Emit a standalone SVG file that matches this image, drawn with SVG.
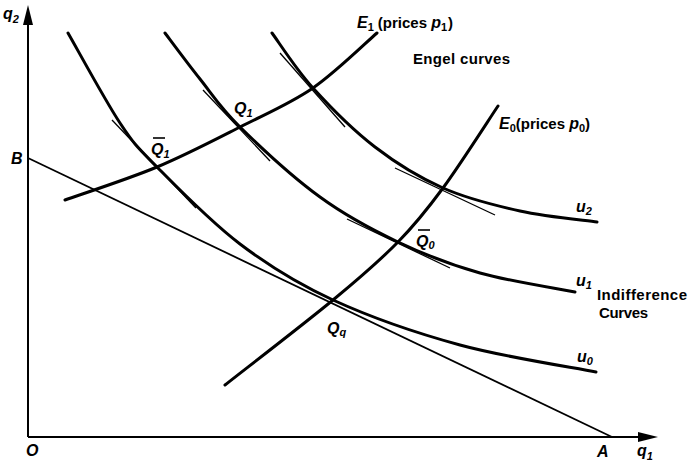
<svg xmlns="http://www.w3.org/2000/svg" width="688" height="464" viewBox="0 0 688 464">
<style>
.ax{stroke:#000;stroke-width:2;fill:none}
.bud{stroke:#000;stroke-width:1.8;fill:none}
.cv{stroke:#000;stroke-width:3;fill:none;stroke-linecap:round}
.tg{stroke:#000;stroke-width:1.3;fill:none}
text{font-family:"Liberation Sans",Arial,sans-serif;fill:#000;font-weight:bold}
.v{font-style:italic;font-size:16px}
.s{font-size:11px}
.w{font-size:15px}
.bar{stroke:#000;stroke-width:1.6}
</style>
<rect width="688" height="464" fill="#fff"/>
<g id="axes">
<path class="ax" d="M28,437 V20"/>
<path class="ax" d="M28,437 H645"/>
<polygon points="28,5 23,25 33,25" fill="#000"/>
<polygon points="658,437 638,432 638,442" fill="#000"/>
</g>
<g id="connectors">
<path id="budget" class="bud" d="M28,158 L612,437"/>
<path id="u0" class="cv" d="M68,33 C76.7,48 105.2,100.7 120,123 C134.8,145.3 137,146.8 157,167 C177,187.2 210.7,221.8 240,244 C269.3,266.2 296.3,283.2 333,300 C369.7,316.8 416.2,333 460,345 C503.8,357 573.3,367.5 596,372"/>
<path id="u1" class="cv" d="M165,33 C170.8,40.7 187.5,63.3 200,79 C212.5,94.7 220,107.3 240,127 C260,146.7 293.7,177.8 320,197 C346.3,216.2 371.3,229.3 398,242 C424.7,254.7 450.5,264.7 480,273 C509.5,281.3 559.2,288.8 575,292"/>
<path id="u2" class="cv" d="M272,33 C278.8,42.2 295.8,69 313,88 C330.2,107 353.3,130.3 375,147 C396.7,163.7 418.8,177.3 443,188 C467.2,198.7 494.3,205.3 520,211 C545.7,216.7 584.2,220.2 597,222"/>
<path id="E1" class="cv" d="M65,200 C80.3,194.5 127.8,179.2 157,167 C186.2,154.8 214,140.2 240,127 C266,113.8 290.2,103.7 313,88 C335.8,72.3 366.3,42.2 377,33"/>
<path id="E0" class="cv" d="M225,385 C243,370.8 304.2,323.8 333,300 C361.8,276.2 379.7,260.7 398,242 C416.3,223.3 426.3,210.7 443,188 C459.7,165.3 488.8,119.7 498,106"/>
<path class="tg" d="M112,120 L196,208"/>
<path class="tg" d="M203,90 L270,161"/>
<path class="tg" d="M280,53 L345,127"/>
<path class="tg" d="M395,168 L495,215"/>
<path class="tg" d="M347,219 L450,268"/>
</g>
<g id="labels">
<text class="v" x="3" y="19">q<tspan class="s" dy="4">2</tspan></text>
<text class="v" x="11" y="164">B</text>
<text class="v" x="26" y="456">O</text>
<text class="v" x="597" y="457">A</text>
<text class="v" x="637" y="456">q<tspan class="s" dy="4">1</tspan></text>
<text class="w" x="357" y="28"><tspan font-style="italic" font-size="16">E</tspan><tspan class="s" dy="3">1</tspan><tspan dy="-3" dx="4">(prices </tspan><tspan font-style="italic" font-size="16">p</tspan><tspan class="s" dy="3">1</tspan><tspan dy="-3" dx="1">)</tspan></text>
<text class="w" x="413" y="64" textLength="97" lengthAdjust="spacing">Engel curves</text>
<text class="w" x="499" y="129"><tspan font-style="italic" font-size="16">E</tspan><tspan class="s" dy="3">0</tspan><tspan dy="-3">(prices </tspan><tspan font-style="italic" font-size="16">p</tspan><tspan class="s" dy="3">0</tspan><tspan dy="-3">)</tspan></text>
<text class="v" x="234" y="114">Q<tspan class="s" dy="3">1</tspan></text>
<text class="v" x="151" y="155">Q<tspan class="s" dy="3">1</tspan></text>
<path class="bar" d="M153,138 H165"/>
<text class="v" x="416" y="247">Q<tspan class="s" dy="2">0</tspan></text>
<path class="bar" d="M418,230 H430"/>
<text class="v" x="327" y="334">Q<tspan class="s" dy="2">q</tspan></text>
<text class="v" x="576" y="212">u<tspan class="s" dy="3">2</tspan></text>
<text class="v" x="576" y="286">u<tspan class="s" dy="3">1</tspan></text>
<text class="w" x="597" y="300" textLength="90" lengthAdjust="spacing">Indifference</text>
<text class="w" x="599" y="318" textLength="49" lengthAdjust="spacing">Curves</text>
<text class="v" x="577" y="362">u<tspan class="s" dy="3">0</tspan></text>
</g>
</svg>
